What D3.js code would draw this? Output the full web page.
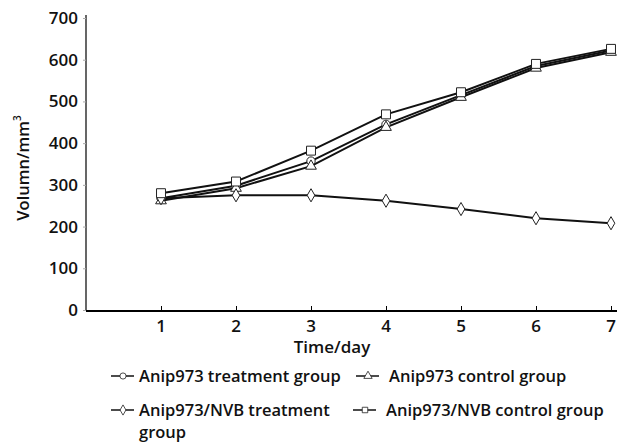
<!DOCTYPE html>
<html>
<head>
<meta charset="utf-8">
<script src="https://cdn.jsdelivr.net/npm/d3@7"></script>
<style>
  body { margin: 0; background: #fff; }
  svg text { font-family: "Open Sans", "Noto Sans", sans-serif; fill: #111; }
</style>
</head>
<body>
<svg id="chart" width="621" height="445"></svg>
<script>
// --- data ---
const days = [1, 2, 3, 4, 5, 6, 7];
const yTicks = [0, 100, 200, 300, 400, 500, 600, 700];
const anipTreatment = [268, 298, 357, 445, 515, 585, 622];
const anipControl = [262, 292, 345, 438, 510, 580, 618];
const nvbTreatment = [268, 275, 275, 262, 242, 220, 208];
const nvbControl = [280, 308, 382, 469, 522, 590, 626];

const seriesList = [
    {name: "Anip973 treatment group", values: anipTreatment, symbol: d3.symbolCircle},
    {name: "Anip973 control group", values: anipControl, symbol: d3.symbolTriangle},
    {name: "Anip973/NVB treatment", values: nvbTreatment, symbol: d3.symbolDiamond},
    {name: "Anip973/NVB control group", values: nvbControl, symbol: d3.symbolSquare}
];

const svg = d3.select("#chart");
const x = d3.scaleLinear().domain([0, 7]).range([86, 611]);
const y = d3.scaleLinear().domain([0, 700]).range([310, 18]);

// --- axes ---
const xAxis = svg.append("g").attr("transform", "translate(0,311)")
    .call(d3.axisTop(x).tickValues(days).tickSize(5).tickFormat(""));
xAxis.select(".domain").attr("d", "M86,0H617").attr("stroke-width", 1.8);
xAxis.selectAll(".tick line").attr("stroke-width", 1);
svg.append("g").attr("transform", "translate(0,311)")
    .selectAll("text").data(days).enter().append("text")
    .attr("x", d => x(d)).attr("y", 21)
    .attr("text-anchor", "middle").attr("font-size", 17).attr("font-weight", 600)
    .text(d => d);

const yAxis = svg.append("g").attr("transform", "translate(86,0)")
    .call(d3.axisLeft(y).tickValues(yTicks).tickSize(3).tickPadding(5));
yAxis.select(".domain").attr("d", "M0,15V311").attr("stroke-width", 1.2);
yAxis.selectAll(".tick line").attr("stroke", "#aaa");
yAxis.selectAll(".tick text").attr("font-size", 17).attr("font-weight", 600)
    .attr("font-family", "'Open Sans', sans-serif").attr("fill", "#111");

svg.append("text").attr("x", 332).attr("y", 353)
    .attr("text-anchor", "middle").attr("font-size", 17).attr("font-weight", 600)
    .text("Time/day");

const yTitle = svg.append("text")
    .attr("transform", "translate(29,168) rotate(-90)")
    .attr("text-anchor", "middle").attr("font-size", 16.5).attr("font-weight", 600);
yTitle.append("tspan").text("Volumn/mm");
yTitle.append("tspan").attr("font-size", 10).attr("dy", -8).text("3");

// --- lines and markers ---
const line = d3.line().x((d, i) => x(days[i])).y(d => y(d));
const symbolSize = {
    "Anip973 treatment group": 55,
    "Anip973 control group": 50,
    "Anip973/NVB treatment": 50,
    "Anip973/NVB control group": 80
};

seriesList.forEach(s => {
    svg.append("path").datum(s.values)
        .attr("d", line).attr("fill", "none")
        .attr("stroke", "#111").attr("stroke-width", 2);
});
seriesList.forEach(s => {
    svg.selectAll(null).data(s.values).enter().append("path")
        .attr("transform", (d, i) => `translate(${x(days[i])},${y(d)})`)
        .attr("d", d3.symbol().type(s.symbol).size(symbolSize[s.name]))
        .attr("fill", "#fff").attr("stroke", "#222").attr("stroke-width", 1);
});

// --- legend ---
const legendPos = [
    {x: 111, y: 376, text: 28}, {x: 356, y: 376, text: 33},
    {x: 111, y: 410, text: 28}, {x: 353, y: 410, text: 33}
];
const legend = svg.selectAll(".leg").data(seriesList).enter().append("g")
    .attr("class", "leg")
    .attr("transform", (d, i) => `translate(${legendPos[i].x},${legendPos[i].y})`);
legend.append("line").attr("x1", 0).attr("x2", 23).attr("y1", 0).attr("y2", 0)
    .attr("stroke", "#111").attr("stroke-width", 1.5);
legend.append("path").attr("transform", "translate(12,0)")
    .attr("d", d => d3.symbol().type(d.symbol).size(30)())
    .attr("fill", "#fff").attr("stroke", "#222").attr("stroke-width", 0.8);
legend.append("text").attr("x", (d, i) => legendPos[i].text).attr("y", 6)
    .attr("font-size", 16.5).attr("font-weight", 600)
    .text(d => d.name);
svg.append("text").attr("x", 139).attr("y", 438)
    .attr("font-size", 16.5).attr("font-weight", 600).text("group");
</script>
</body>
</html>
